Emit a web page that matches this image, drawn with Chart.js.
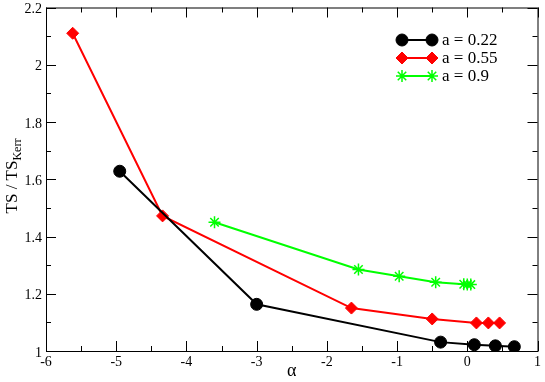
<!DOCTYPE html>
<html>
<head>
<meta charset="utf-8">
<script src="https://cdn.jsdelivr.net/npm/chart.js@4"></script>
<style>
  html, body { margin: 0; padding: 0; background: #fff; }
  #wrap { width: 545px; height: 382px; }
</style>
</head>
<body>
<div id="wrap"><canvas id="ts-chart"></canvas></div>
<script>
// series
const alpha022 = [-4.95, -3.0, -0.38, 0.1, 0.4, 0.67];
const ts022 = [1.628, 1.163, 1.031, 1.022, 1.018, 1.015];
const alpha055 = [-5.62, -4.34, -1.65, -0.5, 0.13, 0.3, 0.46];
const ts055 = [2.11, 1.472, 1.15, 1.112, 1.098, 1.098, 1.098];
const alpha09 = [-3.6, -1.55, -0.97, -0.45, -0.05, 0.0, 0.05];
const ts09 = [1.45, 1.285, 1.261, 1.24, 1.233, 1.232, 1.232];

const seriesNames = ['a = 0.22', 'a = 0.55', 'a = 0.9'];

const xMajor = [-6, -5, -4, -3, -2, -1, 0, 1];
const yMajor = [1, 1.2, 1.4, 1.6, 1.8, 2, 2.2];

const serif = '"Liberation Serif", "DejaVu Serif", serif';

function toPoints(xs, ys) {
    return xs.map((x, i) => ({ x: x, y: ys[i] }));
}

// frame with inward ticks on all four sides
const framePlugin = {
    id: 'frame',
    afterDraw(chart) {
        const ctx = chart.ctx;
        const a = chart.chartArea;
        const xs = chart.scales.x, ys = chart.scales.y;
        ctx.save();
        ctx.strokeStyle = '#000';
        ctx.lineWidth = 1;
        ctx.strokeRect(a.left + 0.5, a.top + 0.5, a.right - a.left, a.bottom - a.top);
        ctx.beginPath();
        for (let v = xMajor[0]; v <= xMajor[xMajor.length - 1] + 1e-9; v += 0.5) {
            const px = Math.round(xs.getPixelForValue(v)) + 0.5;
            const len = Math.abs(v - Math.round(v)) < 1e-9 ? 10 : 5;
            ctx.moveTo(px, a.bottom); ctx.lineTo(px, a.bottom - len);
            ctx.moveTo(px, a.top); ctx.lineTo(px, a.top + len);
        }
        for (let i = 0; i <= 12; i++) {
            const v = 1 + i * 0.1;
            const py = Math.round(ys.getPixelForValue(v)) + 0.5;
            const len = i % 2 === 0 ? 10 : 5;
            ctx.moveTo(a.left, py); ctx.lineTo(a.left + len, py);
            ctx.moveTo(a.right, py); ctx.lineTo(a.right - len, py);
        }
        ctx.stroke();

        // y axis title with subscript
        ctx.fillStyle = '#000';
        ctx.translate(13, 176);
        ctx.rotate(-Math.PI / 2);
        ctx.textBaseline = 'middle';
        ctx.font = '17px ' + serif;
        const main = 'TS / TS';
        const w1 = ctx.measureText(main).width;
        ctx.font = '12px ' + serif;
        const w2 = ctx.measureText('Kerr').width;
        const x0 = -(w1 + w2) / 2;
        ctx.font = '17px ' + serif;
        ctx.textAlign = 'left';
        ctx.fillText(main, x0, 0);
        ctx.font = '12px ' + serif;
        ctx.fillText('Kerr', x0 + w1, 5);
        ctx.restore();

        // legend
        ctx.save();
        const rows = [40, 58, 76];
        chart.data.datasets.forEach((ds, i) => {
            const y = rows[i];
            ctx.strokeStyle = ds.borderColor;
            ctx.lineWidth = 2;
            ctx.beginPath();
            ctx.moveTo(402, y); ctx.lineTo(432, y);
            ctx.stroke();
            const opts = {
                pointStyle: ds.pointStyle, radius: ds.pointRadius,
                borderWidth: ds.pointBorderWidth, rotation: 0
            };
            ctx.fillStyle = ds.pointBackgroundColor;
            ctx.strokeStyle = ds.pointBorderColor;
            ctx.lineWidth = ds.pointBorderWidth;
            Chart.helpers.drawPoint(ctx, opts, 402, y);
            Chart.helpers.drawPoint(ctx, opts, 432, y);
            ctx.fillStyle = '#000';
            ctx.font = '17px ' + serif;
            ctx.textBaseline = 'middle';
            ctx.textAlign = 'left';
            ctx.fillText(ds.label, 442, y + 1);
        });
        ctx.restore();
    }
};

function makeSet(label, xs, ys, color, style, radius) {
    return {
        label: label,
        data: toPoints(xs, ys),
        showLine: true,
        borderColor: color,
        borderWidth: 2,
        pointStyle: style,
        pointRadius: radius,
        pointBackgroundColor: color,
        pointBorderColor: color,
        pointBorderWidth: style === 'star' ? 1.5 : 1,
        tension: 0
    };
}

const ctx = document.getElementById('ts-chart').getContext('2d');
const chart = new Chart(ctx, {
    type: 'scatter',
    data: {
        datasets: [
            makeSet(seriesNames[0], alpha022, ts022, '#000000', 'circle', 6),
            makeSet(seriesNames[1], alpha055, ts055, '#ff0000', 'rectRot', 6),
            makeSet(seriesNames[2], alpha09, ts09, '#00ff00', 'star', 6)
        ]
    },
    options: {
        responsive: true,
        maintainAspectRatio: false,
        animation: false,
        layout: { padding: { top: 5, right: 4, left: 0, bottom: 0 } },
        plugins: {
            legend: { display: false },
            tooltip: { enabled: false }
        },
        scales: {
            x: {
                type: 'linear',
                min: xMajor[0],
                max: xMajor[xMajor.length - 1],
                afterBuildTicks: (s) => { s.ticks = xMajor.map(v => ({ value: v })); },
                afterFit: (s) => { s.height = 31; },
                grid: { display: false, drawTicks: false },
                border: { display: false },
                ticks: {
                    color: '#000',
                    padding: 3,
                    maxRotation: 0,
                    font: { family: serif, size: 14 },
                    callback: (v) => String(v)
                },
                title: {
                    display: true,
                    text: 'α',
                    color: '#000',
                    padding: { top: -4, bottom: 0 },
                    font: { family: serif, size: 18 }
                }
            },
            y: {
                type: 'linear',
                min: yMajor[0],
                max: yMajor[yMajor.length - 1],
                afterBuildTicks: (s) => { s.ticks = yMajor.map(v => ({ value: v })); },
                afterFit: (s) => { s.width = 46; s.paddingTop = 0; s.paddingBottom = 0; },
                grid: { display: false, drawTicks: false },
                border: { display: false },
                ticks: {
                    color: '#000',
                    padding: 4,
                    labelOffset: 2,
                    font: { family: serif, size: 14 },
                    callback: (v) => String(+(+v).toFixed(1))
                }
            }
        }
    },
    plugins: [framePlugin]
});
</script>
</body>
</html>
